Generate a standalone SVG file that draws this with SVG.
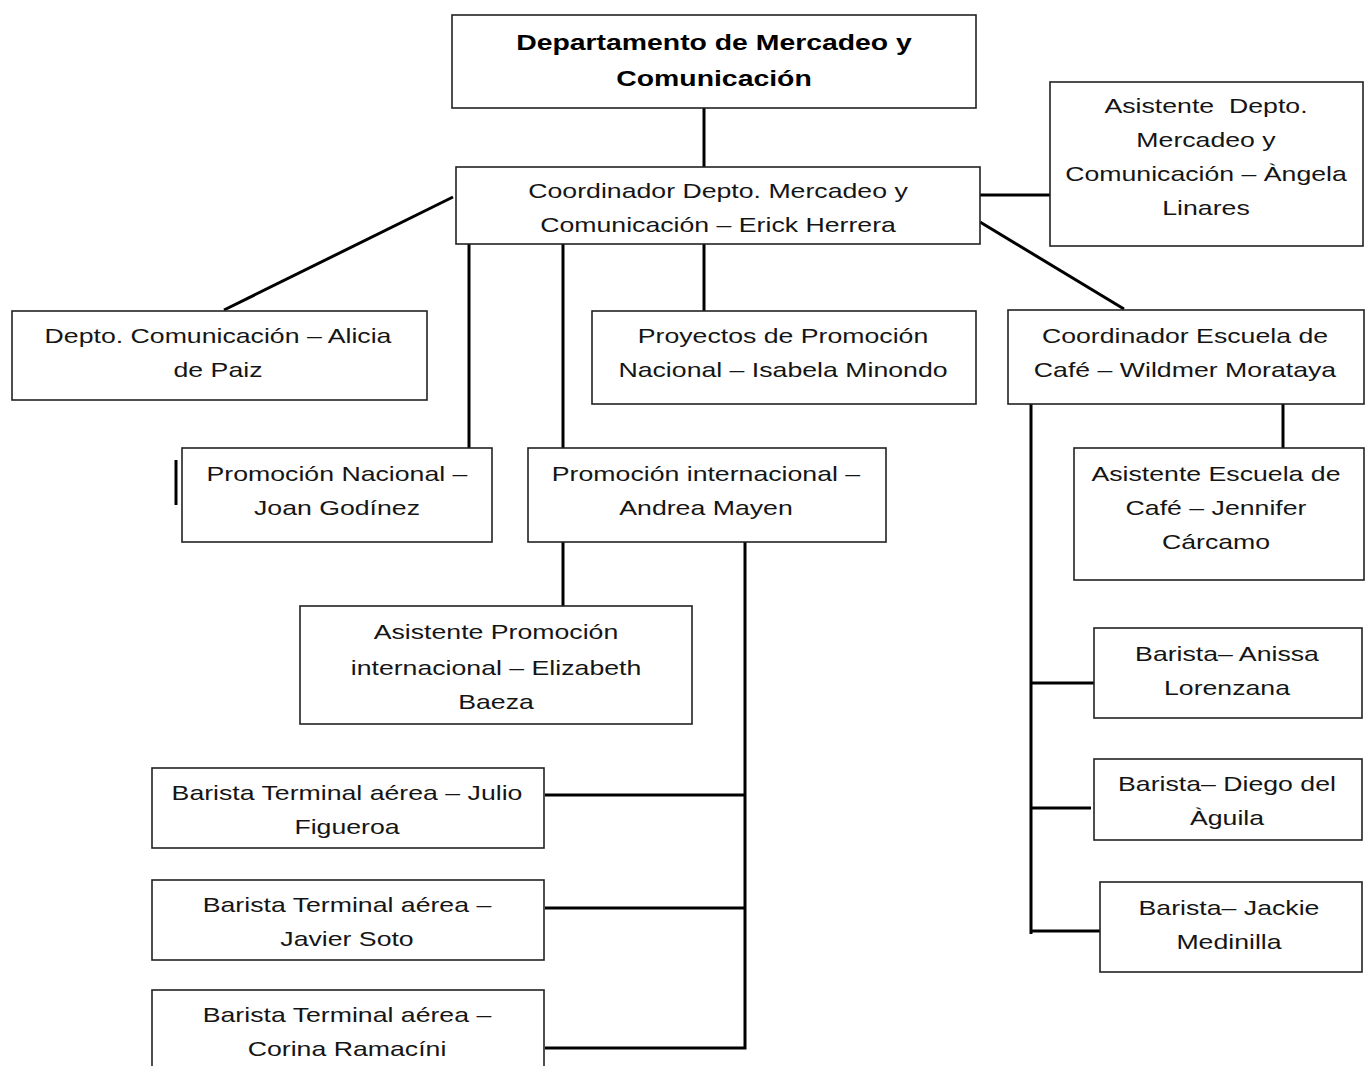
<svg xmlns="http://www.w3.org/2000/svg" width="1365" height="1066" viewBox="0 0 1365 1066">
<style>
.box{fill:#fff;stroke:#222;stroke-width:1.6}
.t{font-family:"Liberation Sans",Arial,sans-serif;font-size:21px;text-anchor:middle;fill:#151515;white-space:pre}
.b{font-family:"Liberation Sans",Arial,sans-serif;font-size:22px;font-weight:bold;text-anchor:middle;fill:#000;white-space:pre}
.c{stroke:#000;stroke-width:3;fill:none}
</style>
<rect width="1365" height="1066" fill="#fff"/>
<g id="connectors" class="c">
<line x1="704" y1="108" x2="704" y2="167"/>
<line x1="980" y1="195" x2="1050" y2="195"/>
<line x1="453" y1="197" x2="224" y2="310"/>
<line x1="980" y1="222" x2="1124" y2="309"/>
<line x1="469" y1="244" x2="469" y2="448"/>
<line x1="563" y1="244" x2="563" y2="448"/>
<line x1="704" y1="244" x2="704" y2="311"/>
<line x1="1283" y1="401" x2="1283" y2="448"/>
<line x1="1031" y1="404" x2="1031" y2="934"/>
<line x1="1031" y1="683" x2="1094" y2="683"/>
<line x1="1031" y1="808" x2="1091" y2="808"/>
<line x1="1031" y1="931" x2="1100" y2="931"/>
<line x1="563" y1="542" x2="563" y2="606"/>
<polyline points="545,795 745,795"/>
<polyline points="545,908 745,908"/>
<polyline points="745,542 745,1048 545,1048"/>
<line x1="176" y1="460" x2="176" y2="505"/>
</g>
<g id="n-dept">
<rect class="box" x="452" y="15" width="524" height="93"/>
<text class="b" transform="translate(714,50) scale(1.29,1)">Departamento de Mercadeo y</text>
<text class="b" transform="translate(714,86) scale(1.29,1)">Comunicación</text>
</g>
<g id="n-coord">
<rect class="box" x="456" y="167" width="524" height="77"/>
<text class="t" transform="translate(718,198) scale(1.27,1)">Coordinador Depto. Mercadeo y</text>
<text class="t" transform="translate(718,232) scale(1.27,1)">Comunicación – Erick Herrera</text>
</g>
<g id="n-asist-depto">
<rect class="box" x="1050" y="82" width="313" height="164"/>
<text class="t" transform="translate(1206,113) scale(1.27,1)">Asistente  Depto.</text>
<text class="t" transform="translate(1206,147) scale(1.27,1)">Mercadeo y</text>
<text class="t" transform="translate(1206,181) scale(1.27,1)">Comunicación – Àngela</text>
<text class="t" transform="translate(1206,215) scale(1.27,1)">Linares</text>
</g>
<g id="n-depto-com">
<rect class="box" x="12" y="311" width="415" height="89"/>
<text class="t" transform="translate(218,343) scale(1.27,1)">Depto. Comunicación – Alicia</text>
<text class="t" transform="translate(218,377) scale(1.27,1)">de Paiz</text>
</g>
<g id="n-proyectos">
<rect class="box" x="592" y="311" width="384" height="93"/>
<text class="t" transform="translate(783,343) scale(1.27,1)">Proyectos de Promoción</text>
<text class="t" transform="translate(783,377) scale(1.27,1)">Nacional – Isabela Minondo</text>
</g>
<g id="n-coord-escuela">
<rect class="box" x="1008" y="310" width="356" height="94"/>
<text class="t" transform="translate(1185,343) scale(1.27,1)">Coordinador Escuela de</text>
<text class="t" transform="translate(1185,377) scale(1.27,1)">Café – Wildmer Morataya</text>
</g>
<g id="n-prom-nac">
<rect class="box" x="182" y="448" width="310" height="94"/>
<text class="t" transform="translate(337,481) scale(1.27,1)">Promoción Nacional –</text>
<text class="t" transform="translate(337,515) scale(1.27,1)">Joan Godínez</text>
</g>
<g id="n-prom-int">
<rect class="box" x="528" y="448" width="358" height="94"/>
<text class="t" transform="translate(706,481) scale(1.27,1)">Promoción internacional –</text>
<text class="t" transform="translate(706,515) scale(1.27,1)">Andrea Mayen</text>
</g>
<g id="n-asist-escuela">
<rect class="box" x="1074" y="448" width="290" height="132"/>
<text class="t" transform="translate(1216,481) scale(1.27,1)">Asistente Escuela de</text>
<text class="t" transform="translate(1216,515) scale(1.27,1)">Café – Jennifer</text>
<text class="t" transform="translate(1216,549) scale(1.27,1)">Cárcamo</text>
</g>
<g id="n-asist-prom">
<rect class="box" x="300" y="606" width="392" height="118"/>
<text class="t" transform="translate(496,639) scale(1.27,1)">Asistente Promoción</text>
<text class="t" transform="translate(496,675) scale(1.27,1)">internacional – Elizabeth</text>
<text class="t" transform="translate(496,709) scale(1.27,1)">Baeza</text>
</g>
<g id="n-anissa">
<rect class="box" x="1094" y="628" width="268" height="90"/>
<text class="t" transform="translate(1227,661) scale(1.27,1)">Barista– Anissa</text>
<text class="t" transform="translate(1227,695) scale(1.27,1)">Lorenzana</text>
</g>
<g id="n-diego">
<rect class="box" x="1094" y="759" width="268" height="81"/>
<text class="t" transform="translate(1227,791) scale(1.27,1)">Barista– Diego del</text>
<text class="t" transform="translate(1227,825) scale(1.27,1)">Àguila</text>
</g>
<g id="n-jackie">
<rect class="box" x="1100" y="882" width="262" height="90"/>
<text class="t" transform="translate(1229,915) scale(1.27,1)">Barista– Jackie</text>
<text class="t" transform="translate(1229,949) scale(1.27,1)">Medinilla</text>
</g>
<g id="n-julio">
<rect class="box" x="152" y="768" width="392" height="80"/>
<text class="t" transform="translate(347,800) scale(1.27,1)">Barista Terminal aérea – Julio</text>
<text class="t" transform="translate(347,834) scale(1.27,1)">Figueroa</text>
</g>
<g id="n-javier">
<rect class="box" x="152" y="880" width="392" height="80"/>
<text class="t" transform="translate(347,912) scale(1.27,1)">Barista Terminal aérea –</text>
<text class="t" transform="translate(347,946) scale(1.27,1)">Javier Soto</text>
</g>
<g id="n-corina">
<rect class="box" x="152" y="990" width="392" height="90"/>
<text class="t" transform="translate(347,1022) scale(1.27,1)">Barista Terminal aérea –</text>
<text class="t" transform="translate(347,1056) scale(1.27,1)">Corina Ramacíni</text>
</g>
</svg>
